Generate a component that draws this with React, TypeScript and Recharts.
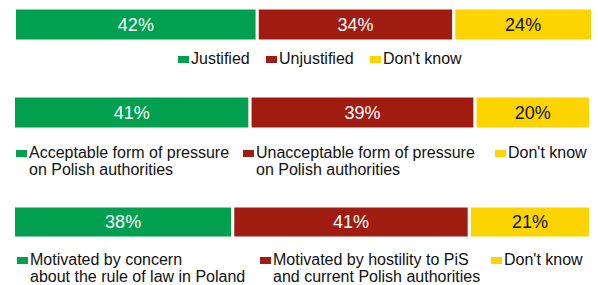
import { BarChart, Bar, XAxis, YAxis, LabelList } from "recharts";

// survey answers, one row per question (percent)
const positiveShare = [42, 41, 38];
const negativeShare = [34, 39, 41];
const dontKnowShare = [24, 20, 21];

const positiveLabels = [
  "Justified",
  "Acceptable form of pressure\non Polish authorities",
  "Motivated by concern\nabout the rule of law in Poland",
];
const negativeLabels = [
  "Unjustified",
  "Unacceptable form of pressure\non Polish authorities",
  "Motivated by hostility to PiS\nand current Polish authorities",
];
const dontKnowLabels = ["Don't know", "Don't know", "Don't know"];

const GREEN = "#00a04f";
const RED = "#a01b10";
const YELLOW = "#fcd500";
const FONT = "'Liberation Sans', Arial, sans-serif";

// where each panel sits on the page
const panelLayout = [
  { barTop: 7.5, barHeight: 33, left: 14.5, right: 5.5, legendTop: 49.5, legendX: [178, 266, 370] },
  { barTop: 95.5, barHeight: 33, left: 13.5, right: 7.5, legendTop: 143.5, legendX: [16, 243, 495] },
  { barTop: 205.5, barHeight: 32, left: 13.5, right: 7.5, legendTop: 250.5, legendX: [17, 260, 491] },
];

const pct = (v: any) => `${v}%`;

function LegendItem({ x, top, color, text }: { x: number; top: number; color: string; text: string }) {
  return (
    <div style={{ position: "absolute", left: x, top, display: "flex", alignItems: "flex-start" }}>
      <div style={{ width: 11, height: 7, marginTop: 6, marginRight: 2, background: color, flexShrink: 0 }} />
      <div style={{ whiteSpace: "pre", fontSize: 16, lineHeight: "17px", color: "#111" }}>{text}</div>
    </div>
  );
}

function Panel({ index }: { index: number }) {
  const lay = panelLayout[index];
  const data = [
    {
      name: "row",
      positive: positiveShare[index],
      negative: negativeShare[index],
      dontKnow: dontKnowShare[index],
    },
  ];
  return (
    <>
      <div style={{ position: "absolute", left: 0, top: lay.barTop }}>
        <BarChart
          width={598}
          height={lay.barHeight}
          data={data}
          layout="vertical"
          margin={{ top: 0, bottom: 0, left: lay.left, right: lay.right }}
          barCategoryGap={0}
        >
          <XAxis type="number" domain={[0, 100]} hide />
          <YAxis type="category" dataKey="name" hide />
          <Bar dataKey="positive" stackId="a" fill={GREEN} stroke="#fff" strokeWidth={3} isAnimationActive={false}>
            <LabelList dataKey="positive" position="center" formatter={pct} fill="#fff" fontSize={18} fontFamily={FONT} />
          </Bar>
          <Bar dataKey="negative" stackId="a" fill={RED} stroke="#fff" strokeWidth={3} isAnimationActive={false}>
            <LabelList dataKey="negative" position="center" formatter={pct} fill="#fff" fontSize={18} fontFamily={FONT} />
          </Bar>
          <Bar dataKey="dontKnow" stackId="a" fill={YELLOW} stroke="#fff" strokeWidth={3} isAnimationActive={false}>
            <LabelList dataKey="dontKnow" position="center" formatter={pct} fill="#111" fontSize={18} fontFamily={FONT} />
          </Bar>
        </BarChart>
      </div>
      <LegendItem x={lay.legendX[0]} top={lay.legendTop} color={GREEN} text={positiveLabels[index]} />
      <LegendItem x={lay.legendX[1]} top={lay.legendTop} color={RED} text={negativeLabels[index]} />
      <LegendItem x={lay.legendX[2]} top={lay.legendTop} color={YELLOW} text={dontKnowLabels[index]} />
    </>
  );
}

export default function App() {
  return (
    <div
      style={{
        position: "absolute",
        left: 0,
        top: 0,
        width: 598,
        height: 285,
        background: "#fff",
        fontFamily: FONT,
        overflow: "hidden",
      }}
    >
      {panelLayout.map((_, i) => (
        <Panel key={i} index={i} />
      ))}
    </div>
  );
}
